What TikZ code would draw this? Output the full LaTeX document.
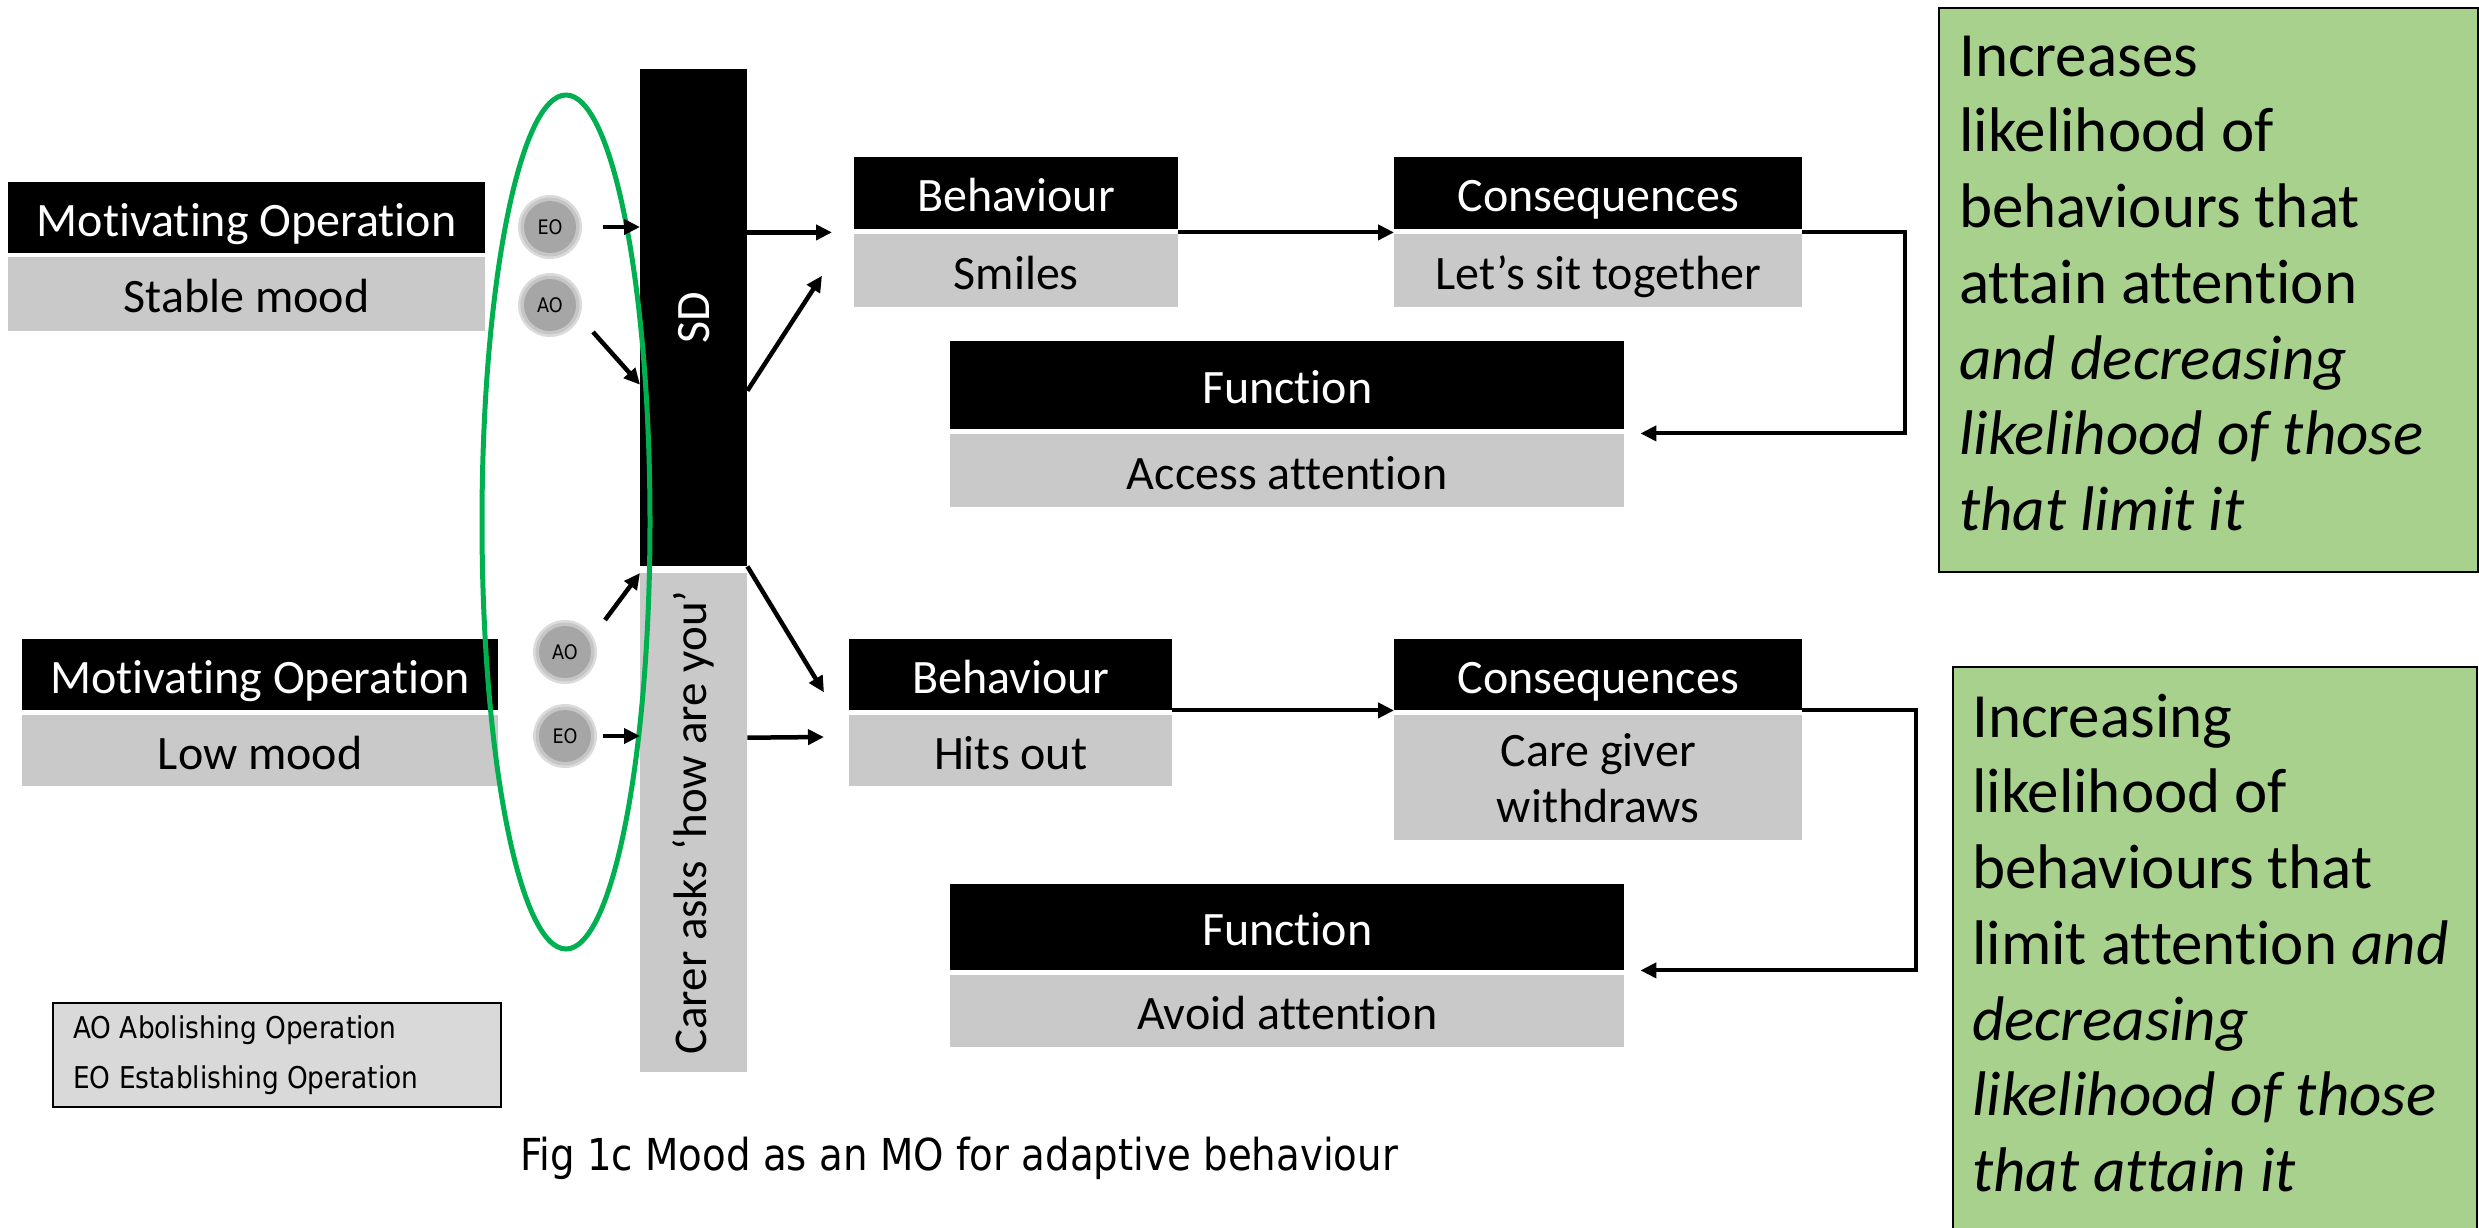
\documentclass[tikz,border=0pt]{standalone}
\usepackage{fontspec}
\setmainfont{Carlito}[Ligatures=NoCommon]
\newfontfamily\tahoma[FakeStretch=0.88]{DejaVu Sans}
\usetikzlibrary{arrows.meta,calc}
\definecolor{boxgray}{HTML}{C9C9C9}
\definecolor{legendgray}{HTML}{D9D9D9}
\definecolor{boxgreen}{HTML}{A9D18E}
\definecolor{ellgreen}{HTML}{00B050}
\definecolor{circgray}{HTML}{A6A6A6}
\begin{document}
\begin{tikzpicture}[x=1pt,y=-1pt,
  hdr/.style={fill=black,text=white,inner sep=0pt,anchor=north west,font=\fontsize{48}{58}\selectfont,text height=37pt,text depth=0pt},
  bdy/.style={fill=boxgray,text=black,inner sep=0pt,anchor=north west,align=center,font=\fontsize{48}{58}\selectfont,text height=37pt,text depth=0pt},
  bdytwo/.style={fill=boxgray,text=black,inner sep=0pt,anchor=north west,align=center,font=\fontsize{48}{56}\selectfont},
  arr/.style={line width=4.5pt,-{Triangle[length=16pt,width=15pt]}},
  brk/.style={line width=4pt,-{Triangle[length=16pt,width=15pt]}},
  opcirc/.style={circle,fill=circgray,minimum size=52pt,inner sep=0pt,text=black,font=\tahoma\fontsize{20}{22}\selectfont},
  glow/.style={fill=circgray,opacity=0.4},
  greenbox/.style={draw=black,line width=2pt,fill=boxgreen,anchor=north west,inner sep=0pt},
  greentext/.style={anchor=north west,inner sep=0pt,align=left,font=\fontsize{63}{75.7}\selectfont},
  legtext/.style={anchor=base west,inner sep=0pt,font=\tahoma\fontsize{30}{36}\selectfont}
]
\useasboundingbox (0,0) rectangle (2479,1227);

% Motivating operations
\node[hdr,minimum width=477pt,minimum height=71pt] (mo1h) at (8,182) {Motivating Operation};
\node[bdy,minimum width=477pt,minimum height=74pt] (mo1b) at (8,257) {Stable mood};
\node[hdr,minimum width=476pt,minimum height=71pt] (mo2h) at (22,639) {Motivating Operation};
\node[bdy,minimum width=476pt,minimum height=71pt] (mo2b) at (22,715) {Low mood};

% SD bar
\node[fill=black,inner sep=0pt,anchor=north west,minimum width=107pt,minimum height=497pt] (sdh) at (640,69) {};
\node[fill=boxgray,inner sep=0pt,anchor=north west,minimum width=107pt,minimum height=499pt] (sdb) at (640,573) {};
\node[rotate=90,text=white,font=\fontsize{48}{58}\selectfont] (sdl) at (sdh.center) {SD};
\node[rotate=90,text=black,font=\fontsize{47}{58}\selectfont] (sdbl) at (sdb.center) {Carer asks ‘how are you’};

% Behaviour / consequences / function (top)
\node[hdr,minimum width=324pt,minimum height=72pt] (b1h) at (854,157) {Behaviour};
\node[bdy,minimum width=324pt,minimum height=73pt] (b1b) at (854,234) {Smiles};
\node[hdr,minimum width=408pt,minimum height=72pt] (c1h) at (1394,157) {Consequences};
\node[bdy,minimum width=408pt,minimum height=73pt] (c1b) at (1394,234) {Let’s sit together};
\node[hdr,minimum width=674pt,minimum height=88pt] (f1h) at (950,341) {Function};
\node[bdy,minimum width=674pt,minimum height=73pt] (f1b) at (950,434) {Access attention};

% Behaviour / consequences / function (bottom)
\node[hdr,minimum width=323pt,minimum height=71pt] (b2h) at (849,639) {Behaviour};
\node[bdy,minimum width=323pt,minimum height=71pt] (b2b) at (849,715) {Hits out};
\node[hdr,minimum width=408pt,minimum height=71pt] (c2h) at (1394,639) {Consequences};
\node[bdytwo,minimum width=408pt,minimum height=125pt] (c2b) at (1394,715) {Care giver\\withdraws};
\node[hdr,minimum width=674pt,minimum height=86pt] (f2h) at (950,884) {Function};
\node[bdy,minimum width=674pt,minimum height=72pt] (f2b) at (950,975) {Avoid attention};

% green ellipse
\draw[ellgreen,line width=5pt] (566,522) ellipse [x radius=84pt,y radius=427pt];

% EO / AO circles with soft edge
\foreach \cx/\cy in {550/227,550/305,565/652,565/736}{
  \fill[glow] (\cx,\cy) circle (32pt);
  \fill[glow] (\cx,\cy) circle (29.5pt);
}
\node[opcirc] (eo1) at (550,227) {EO};
\node[opcirc] (ao1) at (550,305) {AO};
\node[opcirc] (ao2) at (565,652) {AO};
\node[opcirc] (eo2) at (565,736) {EO};

% arrows into SD
\draw[arr] ([xshift=27pt]eo1.east) -- (sdh.west |- eo1.east);
\draw[arr] ($(ao1.center)+(43,27)$) -- ($(sdh.west)+(0,67)$);
\draw[arr] ($(ao2.center)+(40,-32)$) -- (sdb.north west);
\draw[arr] ($(eo2.east)+(12,0)$) -- (sdb.west |- eo2.east);

% arrows out of SD
\draw[arr] ($(sdh.east |- b1h.south west)+(0,3)$) -- ($(b1h.south west)+(-22,3)$);
\draw[arr] ($(sdh.east)+(0,73)$) -- ($(b1b.west)+(-32,5)$);
\draw[arr] (sdh.south east) -- ($(b2h.south west)+(-25,-18)$);
\draw[arr] ($(sdb.east)+(0,-85)$) -- ($(b2b.north west)+(-25,22)$);

% behaviour -> consequences
\draw[brk] ($(b1h.south east)+(0,3)$) -- ($(c1h.south west)+(0,3)$);
\draw[brk] (b2h.south east) -- (c2h.south west);

% consequences -> function brackets
\draw[brk] ($(c1h.south east)+(0,3)$) -- ++(103,0) |- ($(f1h.south east)+(16,4)$);
\draw[brk] (c2h.south east) -- ++(114,0) |- ($(f2h.south east)+(16,0)$);

% green boxes
\node[greenbox,minimum width=539pt,minimum height=564pt] (g1) at (1938,7) {};
\node[greentext] (g1t) at (1959,23) {\strut Increases\\likelihood of\\behaviours that\\attain attention\\\textit{and decreasing}\\\textit{likelihood of those}\\\textit{that limit it}};
\node[greenbox,minimum width=524pt,minimum height=600pt] (g2) at (1952,666) {};
\node[greentext] (g2t) at (1972,684) {\strut Increasing\\likelihood of\\behaviours that\\limit attention \textit{and}\\\textit{decreasing}\\\textit{likelihood of those}\\\textit{that attain it}};

% legend
\node[draw=black,line width=2pt,fill=legendgray,anchor=north west,inner sep=0pt,minimum width=448pt,minimum height=104pt] (leg) at (52,1002) {};
\node[legtext] (leg1) at (73,1038) {AO Abolishing Operation};
\node[legtext] (leg2) at (73,1088) {EO Establishing Operation};

% caption
\node[anchor=base west,inner sep=0pt,font=\tahoma\fontsize{44}{52}\selectfont] (cap) at (520,1170) {Fig 1c Mood as an MO for adaptive behaviour};
\end{tikzpicture}
\end{document}
